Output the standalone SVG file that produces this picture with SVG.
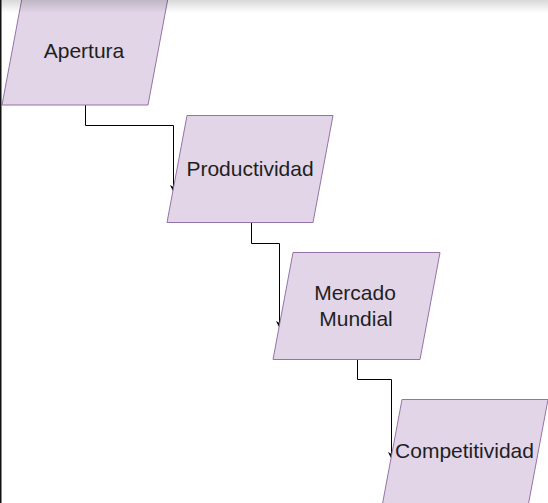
<svg xmlns="http://www.w3.org/2000/svg" width="548" height="503" viewBox="0 0 548 503">
<style>
.shape{fill:#e1d5e7;stroke:#9673a6;stroke-width:1}
.lbl{font-family:"Liberation Sans",Arial,sans-serif;font-size:21px;fill:#1f1f1f;text-anchor:middle}
.conn{fill:none;stroke:#000;stroke-width:1}
</style>
<defs>
<marker id="arr" viewBox="0 0 10 10" refX="10" refY="5" markerWidth="7" markerHeight="7" markerUnits="userSpaceOnUse" orient="auto">
<path d="M0,0 L10,5 L0,10 L3,5 Z" fill="#000"/>
</marker>
<linearGradient id="shade" x1="0" y1="0" x2="0" y2="1">
<stop offset="0" stop-color="#000" stop-opacity="0.15"/>
<stop offset="1" stop-color="#000" stop-opacity="0"/>
</linearGradient>
</defs>
<rect x="0" y="0" width="548" height="503" fill="#fff"/>
<g id="connectors">
<path class="conn" d="M85.5,105 V125.5 H173.5 V192" marker-end="url(#arr)"/>
<path class="conn" d="M251.5,222.5 V243.5 H279.5 V328" marker-end="url(#arr)"/>
<path class="conn" d="M357.5,359.5 V379.5 H391.5 V459" marker-end="url(#arr)"/>
</g>
<g id="node-apertura">
<polygon class="shape" points="22,-2 168,-2 148,105 2,105"/>
<text class="lbl" x="84" y="58">Apertura</text>
</g>
<g id="node-productividad">
<polygon class="shape" points="187,115.5 333,115.5 313,222.5 167,222.5"/>
<text class="lbl" x="250" y="176">Productividad</text>
</g>
<g id="node-mercado">
<polygon class="shape" points="293,252.5 440,252.5 420,359.5 273,359.5"/>
<text class="lbl" x="355" y="300">Mercado</text>
<text class="lbl" x="356" y="326">Mundial</text>
</g>
<g id="node-competitividad">
<polygon class="shape" points="402,399.5 548,399.5 528,506.5 382,506.5"/>
<text class="lbl" x="464.5" y="458">Competitividad</text>
</g>
<rect x="0" y="0" width="548" height="13" fill="url(#shade)"/>
<rect x="0" y="0" width="1.5" height="503" fill="#111"/>
</svg>
